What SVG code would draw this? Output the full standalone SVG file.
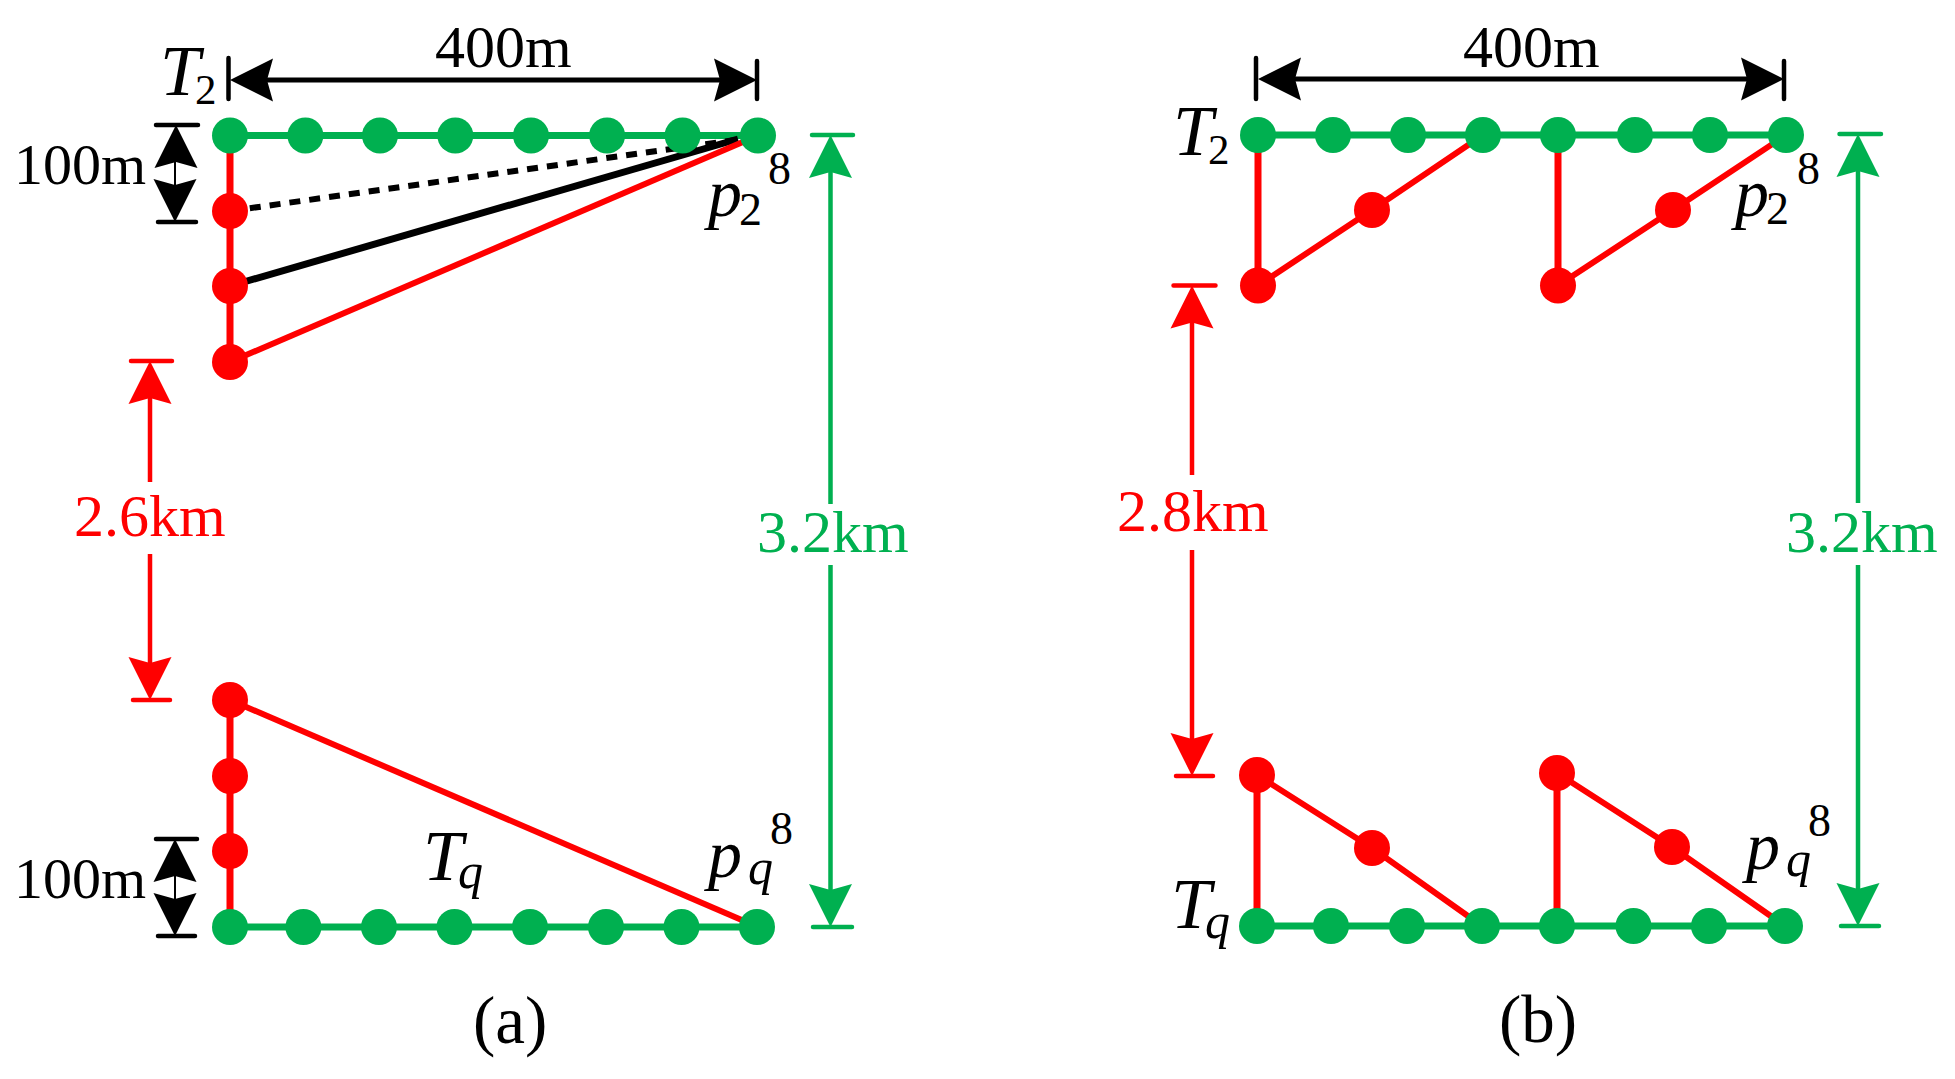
<svg xmlns="http://www.w3.org/2000/svg" width="1955" height="1079" viewBox="0 0 1955 1079">
<style>
text{font-family:"Liberation Serif","Times New Roman",serif;font-size:60px;fill:#000}
.m{font-size:58px}
.c{font-size:67px}
.i{font-style:italic;font-size:72px}
.p{font-style:italic;font-size:68px}
.s{font-size:43px;font-style:normal}
.q{font-size:50px;font-style:italic}
.e{font-size:46px}
text.r{fill:#ff0000}
text.g{fill:#00b050}
.gl{stroke:#00b050;stroke-width:7;fill:none}
.rl{stroke:#ff0000;stroke-width:6;fill:none}
.rv{stroke:#ff0000;stroke-width:7;fill:none}
.bl{stroke:#000;stroke-width:7;fill:none}
.bd{stroke:#000;stroke-width:6;stroke-dasharray:11 9;fill:none}
.dr{stroke:#ff0000;stroke-width:4.5;fill:none}
.dg{stroke:#00b050;stroke-width:4.5;fill:none}
.dk{stroke:#000;stroke-width:5;fill:none}
.th{stroke:#000;stroke-width:2;fill:none}
.tk{stroke-width:4.5;stroke-linecap:round;fill:none}
.hg{fill:#00b050}.hr{fill:#ff0000}.hk{fill:#000}
circle.g{fill:#00b050}circle.r{fill:#ff0000}
</style>
<defs>
<path id="h" d="M0,0L21.5,43L0,37L-21.5,43Z"/>
</defs>
<rect width="1955" height="1079" fill="#fff"/>
<g id="connectors">
<path class="gl" d="M230,135.5H758"/>
<path class="gl" d="M230,927H758"/>
<path class="rv" d="M230,135.5V362"/>
<path class="rv" d="M230,700V927"/>
<path class="bd" d="M230,211L735,140"/>
<path class="bl" d="M230,286L738,139"/>
<path class="rl" d="M230,362L758,135.5"/>
<path class="rl" d="M230,700L758,927"/>
<path class="gl" d="M1258,135H1786"/>
<path class="gl" d="M1257,926H1785"/>
<path class="rv" d="M1258,135V285.5"/>
<path class="rv" d="M1558,135V285.5"/>
<path class="rl" d="M1258,285.5L1372,210L1483,135"/>
<path class="rl" d="M1558,285.5L1673,210L1786,135"/>
<path class="rv" d="M1257,775V926"/>
<path class="rv" d="M1557,773V926"/>
<path class="rl" d="M1257,775L1372,848L1482,926"/>
<path class="rl" d="M1557,773L1672,847L1785,926"/>
</g>
<g id="dimensions">
<g id="dim-a-400">
<path class="tk" stroke="#000" d="M228.5,58V99M757,61V99"/>
<path class="dk" d="M255,80H735"/>
<use href="#h" class="hk" transform="translate(230,80) rotate(-90)"/>
<use href="#h" class="hk" transform="translate(757,80) rotate(90)"/>
</g>
<g id="dim-a-100-top">
<path class="tk" stroke="#000" d="M156,125H198M158,222H196"/>
<path class="th" d="M175,160V190"/>
<use href="#h" class="hk" transform="translate(176,125)"/>
<use href="#h" class="hk" transform="translate(175,222) rotate(180)"/>
</g>
<g id="dim-a-100-bottom">
<path class="tk" stroke="#000" d="M156,839H197M158,936H195"/>
<path class="th" d="M175,875V900"/>
<use href="#h" class="hk" transform="translate(175,839)"/>
<use href="#h" class="hk" transform="translate(175,936) rotate(180)"/>
</g>
<g id="dim-a-red">
<path class="tk" stroke="#ff0000" d="M131,361H172M133,700H170"/>
<path class="dr" d="M150,395V482M150,554V665"/>
<use href="#h" class="hr" transform="translate(150,361)"/>
<use href="#h" class="hr" transform="translate(150,700) rotate(180)"/>
</g>
<g id="dim-a-green">
<path class="tk" stroke="#00b050" d="M812,135H853M813,927H852"/>
<path class="dg" d="M830.5,170V504M830.5,565V890"/>
<use href="#h" class="hg" transform="translate(830.5,135)"/>
<use href="#h" class="hg" transform="translate(830.5,927) rotate(180)"/>
</g>
<g id="dim-b-400">
<path class="tk" stroke="#000" d="M1256,58V99M1784,61V99"/>
<path class="dk" d="M1280,79H1765"/>
<use href="#h" class="hk" transform="translate(1258,79) rotate(-90)"/>
<use href="#h" class="hk" transform="translate(1784,79) rotate(90)"/>
</g>
<g id="dim-b-red">
<path class="tk" stroke="#ff0000" d="M1173.5,285.5H1215.5M1176,776H1213"/>
<path class="dr" d="M1192,320V475M1192,550V740"/>
<use href="#h" class="hr" transform="translate(1192,285.5)"/>
<use href="#h" class="hr" transform="translate(1192,776) rotate(180)"/>
</g>
<g id="dim-b-green">
<path class="tk" stroke="#00b050" d="M1839.5,134H1881M1841,926H1879"/>
<path class="dg" d="M1858,170V503M1858,565V890"/>
<use href="#h" class="hg" transform="translate(1858,134)"/>
<use href="#h" class="hg" transform="translate(1858,926) rotate(180)"/>
</g>
</g>
<g id="nodes">
<g id="a-t1"><circle class="g" cx="230" cy="135.5" r="18"/></g>
<g id="a-t2"><circle class="g" cx="305.4" cy="135.5" r="18"/></g>
<g id="a-t3"><circle class="g" cx="380" cy="135.5" r="18"/></g>
<g id="a-t4"><circle class="g" cx="455.3" cy="135.5" r="18"/></g>
<g id="a-t5"><circle class="g" cx="531" cy="135.5" r="18"/></g>
<g id="a-t6"><circle class="g" cx="607.1" cy="135.5" r="18"/></g>
<g id="a-t7"><circle class="g" cx="682.6" cy="135.5" r="18"/></g>
<g id="a-t8"><circle class="g" cx="758" cy="135.5" r="18"/></g>
<g id="a-r1"><circle class="r" cx="230" cy="211" r="18"/></g>
<g id="a-r2"><circle class="r" cx="230" cy="286" r="18"/></g>
<g id="a-r3"><circle class="r" cx="230" cy="362" r="18"/></g>
<g id="a-r4"><circle class="r" cx="230" cy="700" r="18"/></g>
<g id="a-r5"><circle class="r" cx="230" cy="776" r="18"/></g>
<g id="a-r6"><circle class="r" cx="230" cy="851" r="18"/></g>
<g id="a-b1"><circle class="g" cx="230" cy="927" r="18"/></g>
<g id="a-b2"><circle class="g" cx="303.4" cy="927" r="18"/></g>
<g id="a-b3"><circle class="g" cx="379" cy="927" r="18"/></g>
<g id="a-b4"><circle class="g" cx="454.5" cy="927" r="18"/></g>
<g id="a-b5"><circle class="g" cx="530" cy="927" r="18"/></g>
<g id="a-b6"><circle class="g" cx="606" cy="927" r="18"/></g>
<g id="a-b7"><circle class="g" cx="681.5" cy="927" r="18"/></g>
<g id="a-b8"><circle class="g" cx="757" cy="927" r="18"/></g>
<g id="b-t1"><circle class="g" cx="1258" cy="135" r="18"/></g>
<g id="b-t2"><circle class="g" cx="1333" cy="135" r="18"/></g>
<g id="b-t3"><circle class="g" cx="1408" cy="135" r="18"/></g>
<g id="b-t4"><circle class="g" cx="1483" cy="135" r="18"/></g>
<g id="b-t5"><circle class="g" cx="1558" cy="135" r="18"/></g>
<g id="b-t6"><circle class="g" cx="1635" cy="135" r="18"/></g>
<g id="b-t7"><circle class="g" cx="1710" cy="135" r="18"/></g>
<g id="b-t8"><circle class="g" cx="1786" cy="135" r="18"/></g>
<g id="b-r1"><circle class="r" cx="1372" cy="210" r="18"/></g>
<g id="b-r2"><circle class="r" cx="1673" cy="210" r="18"/></g>
<g id="b-r3"><circle class="r" cx="1258" cy="285.5" r="18"/></g>
<g id="b-r4"><circle class="r" cx="1558" cy="285.5" r="18"/></g>
<g id="b-r5"><circle class="r" cx="1257" cy="775" r="18"/></g>
<g id="b-r6"><circle class="r" cx="1557" cy="773" r="18"/></g>
<g id="b-r7"><circle class="r" cx="1372" cy="848" r="18"/></g>
<g id="b-r8"><circle class="r" cx="1672" cy="847" r="18"/></g>
<g id="b-b1"><circle class="g" cx="1257" cy="926" r="18"/></g>
<g id="b-b2"><circle class="g" cx="1331" cy="926" r="18"/></g>
<g id="b-b3"><circle class="g" cx="1407" cy="926" r="18"/></g>
<g id="b-b4"><circle class="g" cx="1482" cy="926" r="18"/></g>
<g id="b-b5"><circle class="g" cx="1557" cy="926" r="18"/></g>
<g id="b-b6"><circle class="g" cx="1633.5" cy="926" r="18"/></g>
<g id="b-b7"><circle class="g" cx="1709" cy="926" r="18"/></g>
<g id="b-b8"><circle class="g" cx="1785" cy="926" r="18"/></g>
</g>
<g id="labels">
<text x="435" y="67">400m</text>
<text x="1463" y="66.5">400m</text>
<text class="m" x="14" y="184">100m</text>
<text class="m" x="14" y="898">100m</text>
<text class="r" x="74" y="536">2.6km</text>
<text class="r" x="1117" y="531">2.8km</text>
<text class="g" x="757" y="552">3.2km</text>
<text class="g" x="1786" y="552">3.2km</text>
<text class="c" x="473" y="1043">(a)</text>
<text class="c" x="1499" y="1042">(b)</text>
<text class="i" x="160" y="95">T<tspan class="s" dx="-5" dy="9">2</tspan></text>
<text class="i" x="1173" y="155">T<tspan class="s" dx="-5" dy="9">2</tspan></text>
<text class="i" x="423" y="880">T<tspan class="q" dx="-5" dy="8">q</tspan></text>
<text class="i" x="1171" y="928">T<tspan class="q" dx="-6" dy="10">q</tspan></text>
<text class="p" x="708" y="216">p<tspan class="s e" dx="-3" dy="9">2</tspan></text>
<text class="e" x="768" y="184">8</text>
<text class="p" x="1735" y="216">p<tspan class="s e" dx="-3" dy="8">2</tspan></text>
<text class="e" x="1797" y="184">8</text>
<text class="p" x="708" y="877">p<tspan class="q" dx="6" dy="7">q</tspan></text>
<text class="e" x="770" y="844">8</text>
<text class="p" x="1746" y="869">p<tspan class="q" dx="6" dy="7">q</tspan></text>
<text class="e" x="1808" y="836">8</text>
</g>
</svg>
